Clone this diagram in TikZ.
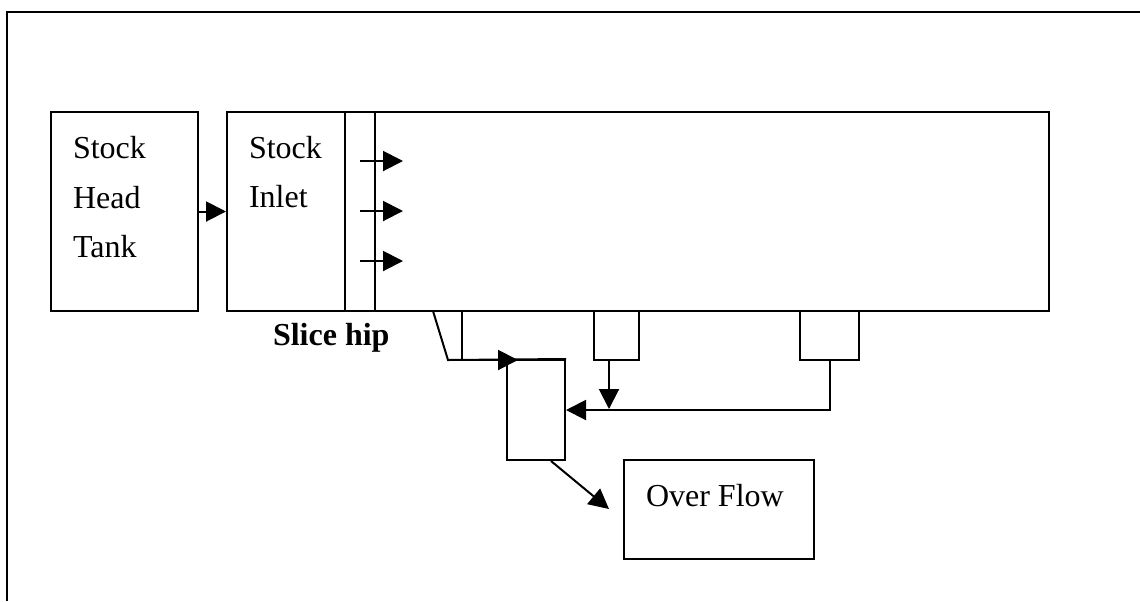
\documentclass[tikz,border=0pt]{standalone}
\usepackage{fontspec}
\setmainfont{Liberation Serif}
\usetikzlibrary{arrows.meta}
\begin{document}
\begin{tikzpicture}[x=0.5pt,y=-0.5pt,line width=1pt,
  box/.style={draw,rectangle,inner sep=0pt,line width=1pt},
  lbl/.style={inner sep=0pt,anchor=base west,font=\fontsize{16pt}{19pt}\selectfont},
  flow/.style={-{Triangle[length=10pt,width=10pt]}}]
\useasboundingbox (0,0) rectangle (1140,601);
% frame
\draw (7,601) -- (7,12) -- (1140,12);
% boxes
\node[box,minimum width=73.5pt,minimum height=99.5pt] (tank) at (124.5,211.5) {};
\node[box,minimum width=59pt,minimum height=99.5pt] (inlet) at (286,211.5) {};
\node[box,minimum width=15pt,minimum height=99.5pt] (lip) at (360,211.5) {};
\node[box,minimum width=337pt,minimum height=99.5pt] (wire) at (712,211.5) {};
\node[box,minimum width=22.5pt,minimum height=24.5pt] (tab2) at (616.5,335.5) {};
\node[box,minimum width=29.5pt,minimum height=24.5pt] (tab3) at (829.5,335.5) {};
\node[box,minimum width=29pt,minimum height=50pt] (tray) at (536,410) {};
\node[box,minimum width=95pt,minimum height=49.5pt] (over) at (719,509.5) {};
% texts
\node[lbl] (t1) at (72,158) {Stock};
\node[lbl] (t2) at (72,208) {Head};
\node[lbl] (t3) at (72,257) {Tank};
\node[lbl] (t4) at (248,158) {Stock};
\node[lbl] (t5) at (248,207) {Inlet};
\node[lbl,font=\fontsize{16pt}{19pt}\selectfont\bfseries] (t6) at (272,345) {Slice hip};
\node[lbl] (t7) at (645,506) {Over Flow};
% tab 1 (slanted)
\coordinate (s1) at (433,311);
\coordinate (s2) at (448,360);
\coordinate (s3) at (462,311);
\coordinate (s4) at (462,360);
\draw (s1) -- (s2) -- (tray.north east);
\draw (s3) -- (s4);
% connectors
\draw[flow] (tank.east) -- (inlet.west);
\draw[flow] (360,161) -- ++(43,0);
\draw[flow] (360,211) -- ++(43,0);
\draw[flow] (360,261) -- ++(43,0);
\draw[flow] (s2) -- (518,360);
\draw[flow] ([xshift=-3.75pt]tab2.south) -- ++(0,48);
\draw[flow] (tab3.south) |- (tray.east);
\draw[flow] ([xshift=7.5pt]tray.south) -- (609,509);
\end{tikzpicture}
\end{document}
